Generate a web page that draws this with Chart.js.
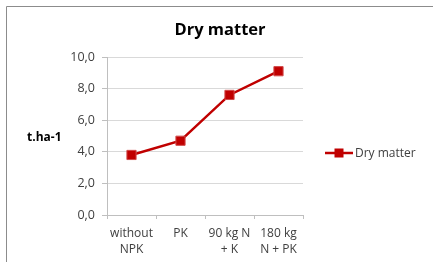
<!DOCTYPE html>
<html>
<head>
<meta charset="utf-8">
<script src="https://cdn.jsdelivr.net/npm/chart.js@4"></script>
<style>
  html, body { margin: 0; padding: 0; background: #fff; }
  #wrap { position: relative; width: 433px; height: 262px; }
</style>
</head>
<body>
<div id="wrap"><canvas id="dm_chart" width="433" height="262"></canvas></div>
<script>
var categories = [["without", "NPK"], "PK", ["90 kg N", "+ K"], ["180 kg", "N + PK"]];
var dryMatter = [3.8, 4.7, 7.6, 9.1];
var seriesName = "Dry matter";
var yTitle = "t.ha-1";
var chartTitle = "Dry matter";

var lineColor = '#c00000';
var fontFam = '"Open Sans", "Liberation Sans", sans-serif';

// frame, title, axis title and legend are drawn by hand
var decor = {
    id: 'decor',
    beforeDraw: function (chart) {
        var c = chart.ctx;
        c.save();
        c.strokeStyle = '#8c8c8c';
        c.lineWidth = 1;
        c.beginPath();
        c.moveTo(6.5, 262);
        c.lineTo(6.5, 6.5);
        c.lineTo(433, 6.5);
        c.stroke();
        c.restore();
    },
    afterDraw: function (chart) {
        var c = chart.ctx;
        var ds = chart.data.datasets[0];
        c.save();
        c.fillStyle = '#000';
        c.font = 'bold 16.5px ' + fontFam;
        c.textAlign = 'center';
        c.textBaseline = 'middle';
        c.fillText(chartTitle, 220, 30);

        c.font = 'bold 12px ' + fontFam;
        c.textAlign = 'left';
        c.fillText(yTitle, 27, 138);

        // legend entry
        var ly = 153;
        c.strokeStyle = ds.borderColor;
        c.lineWidth = 2.5;
        c.beginPath();
        c.moveTo(325, ly);
        c.lineTo(353, ly);
        c.stroke();
        c.fillStyle = ds.pointBackgroundColor;
        c.fillRect(334.5, ly - 4.5, 9, 9);
        c.fillStyle = '#404040';
        c.font = '12px ' + fontFam;
        c.fillText(ds.label, 355, ly + 1);
        c.restore();
    }
};

var ctx = document.getElementById('dm_chart');

var lineGraph = new Chart(ctx, {
    type: 'line',
    data: {
        labels: categories,
        datasets: [
            {
                label: seriesName,
                data: dryMatter,
                borderColor: lineColor,
                backgroundColor: lineColor,
                pointBackgroundColor: lineColor,
                pointBorderColor: '#d24a4a',
                pointBorderWidth: 1,
                pointStyle: 'rect',
                pointRadius: 6.5,
                borderWidth: 2.5,
                tension: 0
            }
        ]
    },
    options: {
        responsive: false,
        animation: false,
        events: [],
        layout: { padding: { left: 60, right: 130, top: 57, bottom: 0 } },
        plugins: {
            legend: { display: false },
            title: { display: false },
            tooltip: { enabled: false }
        },
        scales: {
            x: {
                offset: true,
                afterFit: function (s) { s.height = 47; },
                grid: {
                    offset: true,
                    drawOnChartArea: false,
                    tickLength: 4,
                    color: '#bfbfbf'
                },
                border: { color: '#bfbfbf' },
                ticks: {
                    maxRotation: 0,
                    autoSkip: false,
                    padding: 6,
                    color: '#404040',
                    font: { family: fontFam, size: 12, lineHeight: 1.35 }
                }
            },
            y: {
                min: 0,
                max: 10,
                afterFit: function (s) { s.width = 47; },
                grid: {
                    color: '#d9d9d9',
                    tickLength: 5,
                    tickColor: '#bfbfbf'
                },
                border: { color: '#bfbfbf' },
                ticks: {
                    stepSize: 2,
                    padding: 7,
                    color: '#404040',
                    font: { family: fontFam, size: 12.5 },
                    callback: function (v) { return v.toFixed(1).replace('.', ','); }
                }
            }
        }
    },
    plugins: [decor]
});
</script>
</body>
</html>
